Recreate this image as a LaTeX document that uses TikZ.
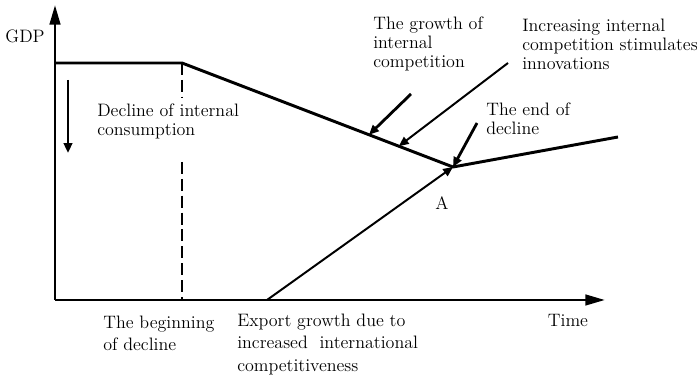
\documentclass[tikz,border=0pt]{standalone}
\usepackage{tikz}
\usetikzlibrary{calc}
\usetikzlibrary{arrows.meta}
\usetikzlibrary{positioning}
\tikzset{
  myaxis/.style={
    draw=black,
    line width=2pt,
    -{Triangle[length=14pt,width=7.5pt]},
  },
  mycurve/.style={
    draw=black,
    line width=2.1pt,
  },
  mydash/.style={
    draw=black,
    line width=2pt,
    dash pattern=on 8.5pt off 3.5pt,
  },
  myarrow/.style={
    draw=black,
    line width=2pt,
    -{Triangle[length=7pt,width=6pt]},
  },
  mythinarrow/.style={
    draw=black,
    line width=1.4pt,
    -{Triangle[length=7pt,width=6pt]},
  },
  mylabel/.style={
    align=left,
    inner sep=0pt,
    font=\fontsize{12.8}{13.5}\selectfont,
  },
  mylowlabel/.style={
    align=left,
    inner sep=0pt,
    font=\fontsize{12.8}{15.8}\selectfont,
  }
}

\begin{document}
\begin{tikzpicture}
    \useasboundingbox (-1.375,-1.95) rectangle (16.05,7.5);

    \coordinate (O) at (0,0);
    \coordinate (Ytop) at (0,7.375);
    \coordinate (Xend) at (13.75,0);
    \coordinate (B) at (3.175,5.925);
    \coordinate (Bdown) at (3.175,0);
    \coordinate (A) at (9.95,3.325);
    \coordinate (R) at (14.075,4.075);
    \coordinate (E) at (5.3,0);

    % axes
    \draw [myaxis] (O) -- (Ytop);
    \draw [myaxis] (O) -- (Xend);
    \node [mylabel, anchor=east] (gdp) at (-0.25,6.6) {GDP};
    \node [mylabel, anchor=center] (time) at (12.825,-0.5) {Time};

    % GDP path
    \draw [mycurve] (0,5.925) -- (B) -- (A) -- (R);
    \coordinate (Bgap1) at (3.175,5.05);
    \coordinate (Bgap2) at (3.175,3.45);
    \draw [mydash] (B) -- (Bgap1);
    \draw [mydash] (Bgap2) -- (Bdown);
    \coordinate (G) at ($(B)!0.69!(A)$);
    \coordinate (C) at ($(B)!0.80!(A)$);

    % internal consumption
    \coordinate (D1) at (0.325,5.5);
    \coordinate (D2) at (0.325,3.675);
    \draw [myarrow] (D1) -- (D2);
    \node [mylabel, anchor=west] (cons) at (1.05,4.475)
      {Decline of internal\\consumption};

    % labels above the curve
    \node [mylabel, anchor=west] (growth) at (7.95,6.4)
      {The growth of\\internal\\competition};
    \node [mylabel, anchor=west] (innov) at (11.675,6.4)
      {Increasing internal\\competition stimulates\\innovations};
    \node [mylabel, anchor=west] (endd) at (10.775,4.54)
      {The end of\\decline};
    \node [mylabel] (a) at (9.675,2.425) {A};

    \coordinate (g0) at (8.9,5.15);
    \coordinate (c0) at (11.325,5.925);
    \coordinate (e0) at (10.55,4.425);
    \draw [myarrow] (g0) -- (G);
    \draw [mythinarrow] (c0) -- (C);
    \draw [myarrow] (e0) -- (A);

    % export
    \draw [mythinarrow] (E) -- (A);

    % labels below the axis
    \node [mylowlabel, anchor=west] (begin) at (1.2,-0.825)
      {The beginning\\of decline};
    \node [mylowlabel, anchor=west] (export) at (4.55,-1.11)
      {Export growth due to\\increased~ international\\competitiveness};
\end{tikzpicture}
\end{document}
